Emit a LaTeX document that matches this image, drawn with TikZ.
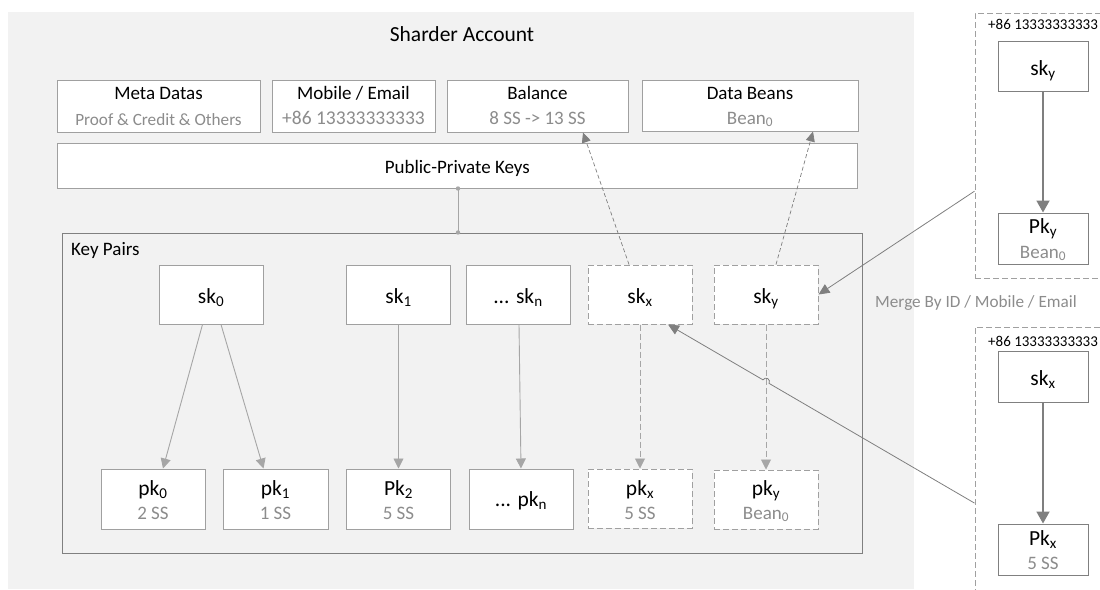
\documentclass[tikz,border=0pt]{standalone}
\usepackage{fontspec}
\setmainfont{Carlito}
\usetikzlibrary{arrows.meta,calc}
\definecolor{bgfill}{RGB}{242,242,242}
\definecolor{boxline}{RGB}{160,160,160}
\definecolor{kpline}{RGB}{128,128,128}
\definecolor{txtgray}{RGB}{140,140,140}
\definecolor{arrgray}{RGB}{166,166,166}
\definecolor{darkarr}{RGB}{127,127,127}
\newcommand{\fs}[1]{\fontsize{#1}{#1}\selectfont}
\begin{document}
\begin{tikzpicture}[x=1pt,y=-1pt,
  box/.style={draw=boxline, line width=1pt, fill=white, inner sep=0pt, minimum width=104pt, minimum height=59pt},
  dbox/.style={box, dash pattern=on 6pt off 3pt},
  grp/.style={draw=boxline, line width=1pt, dash pattern=on 6pt off 3pt},
  txt/.style={anchor=base, inner sep=0pt},
  big/.style={txt, font=\fs{21.5}},
  mid/.style={txt, font=\fs{19}},
  sub/.style={txt, font=\fs{19}, text=txtgray},
  arr/.style={draw=arrgray, line width=0.9pt, -{Triangle[length=10pt,width=10pt]}},
  darr/.style={draw=arrgray, line width=0.9pt, dash pattern=on 6pt off 3pt, -{Triangle[length=10pt,width=10pt]}},
  farr/.style={draw=darkarr, line width=0.7pt, dash pattern=on 4pt off 2.5pt, -{Triangle[length=10pt,width=9pt]}},
  marr/.style={draw=darkarr, line width=0.8pt, -{Triangle[length=11pt,width=10pt]}},
  garr/.style={draw=darkarr, line width=1.8pt, -{Triangle[length=12pt,width=13pt]}},
]
\useasboundingbox (0,0) rectangle (1100,589);
\clip (0,0) rectangle (1100,589);

% background
\fill[bgfill] (8,12) rectangle (914,589);
\node[big] (title) at (462,41) {Sharder Account};

% top row
\node[box, minimum width=203pt, minimum height=52pt] (meta) at (158.5,106) {};
\node[mid] (metaT) at (158.5,99) {Meta Datas};
\node[sub, font=\fs{17.2}] (metaS) at (158.5,125) {Proof \& Credit \& Others};

\node[box, minimum width=163pt, minimum height=52pt] (mob) at (353.5,106) {};
\node[mid] (mobT) at (353.5,99) {Mobile / Email};
\node[sub, font=\fs{19.5}] (mobS) at (353.5,124.5) {+86 13333333333};

\node[box, minimum width=181pt, minimum height=52pt] (bal) at (537.5,106) {};
\node[mid] (balT) at (537.5,99) {Balance};
\node[sub] (balS) at (537.5,124.5) {8 SS -> 13 SS};

\node[box, minimum width=216pt, minimum height=51pt] (db) at (750,105.5) {};
\node[mid] (dbT) at (750,99) {Data Beans};
\node[sub] (dbS) at (750,124) {Bean\textsubscript{0}};

\node[box, minimum width=800.5pt, minimum height=45pt] (ppk) at (457.25,165.5) {};
\node[mid] (ppkT) at (457.25,173) {Public-Private Keys};

% key pairs container
\node[draw=kpline, line width=1pt, inner sep=0pt, minimum width=800pt, minimum height=320pt] (kp) at (462,393) {};
\node[mid, anchor=base west] (kpT) at (71,255) {Key Pairs};

\draw[draw=arrgray, line width=1pt] ([xshift=0.75pt]ppk.south) -- ([xshift=-4pt]kp.north);
\fill[arrgray] ([xshift=0.75pt]ppk.south) circle (2.2pt);
\fill[arrgray] ([xshift=-4pt]kp.north) circle (2.2pt);

% secret keys
\node[box] (sk0) at (211,294.5) {};
\node[box] (sk1) at (398.5,294.5) {};
\node[box] (skn) at (518,294.5) {};
\node[dbox] (skx) at (640,294.5) {};
\node[dbox] (sky) at (766,294.5) {};
\node[big] (sk0T) at (211,303) {sk\textsubscript{0}};
\node[big] (sk1T) at (398.5,303) {sk\textsubscript{1}};
\node[big] (sknT) at (518,303) {... sk\textsubscript{n}};
\node[big] (skxT) at (640,303) {sk\textsubscript{x}};
\node[big] (skyT) at (766,303) {sk\textsubscript{y}};

% public keys
\node[box, minimum height=60pt] (pk0) at (153,499) {};
\node[box, minimum width=105pt, minimum height=60pt] (pk1) at (275.5,499) {};
\node[box, minimum height=60pt] (pk2) at (398.5,499) {};
\node[box, minimum height=60pt] (pkn) at (521,499) {};
\node[dbox] (pkx) at (640,498.5) {};
\node[dbox] (pky) at (766,499.5) {};
\node[big] (pk0T) at (153,495) {pk\textsubscript{0}};
\node[sub] (pk0S) at (153,519) {2 SS};
\node[big] (pk1T) at (275.5,495) {pk\textsubscript{1}};
\node[sub] (pk1S) at (275.5,519) {1 SS};
\node[big] (pk2T) at (398.5,495) {Pk\textsubscript{2}};
\node[sub] (pk2S) at (398.5,519) {5 SS};
\node[big] (pknT) at (521,506) {... pk\textsubscript{n}};
\node[big] (pkxT) at (640,495) {pk\textsubscript{x}};
\node[sub] (pkxS) at (640,519) {5 SS};
\node[big] (pkyT) at (766,495) {pk\textsubscript{y}};
\node[sub] (pkyS) at (766,519) {Bean\textsubscript{0}};

% key arrows
\draw[arr] ([xshift=-8.5pt]sk0.south) -- ([xshift=10pt]pk0.north);
\draw[arr] ([xshift=10pt]sk0.south) -- ([xshift=-12pt]pk1.north);
\draw[arr] (sk1.south) -- (pk2.north);
\draw[arr] ([xshift=1pt]skn.south) -- (pkn.north);
\draw[darr] (skx.south) -- (pkx.north);
\draw[darr] (sky.south) -- (pky.north);

% arrows to balance / data beans
\draw[farr] ([xshift=-11pt]skx.north) -- ([xshift=45.5pt]bal.south);
\draw[farr] ([xshift=10pt]sky.north) -- ([xshift=63pt]db.south);

% right-hand groups
\node[grp, inner sep=0pt, minimum width=160pt, minimum height=265pt] (g1) at (1055,145.5) {};
\node[grp, inner sep=0pt, minimum width=160pt, minimum height=300pt] (g2) at (1055,477) {};
\node[txt, anchor=base west, font=\fs{15}] (g1L) at (988,29) {+86 13333333333};
\node[txt, anchor=base west, font=\fs{15}] (g2L) at (988,346) {+86 13333333333};

\node[box, draw=kpline, minimum width=90pt, minimum height=50pt] (g1sk) at (1043,66) {};
\node[box, draw=kpline, minimum width=90pt, minimum height=51pt] (g1pk) at (1043,238.5) {};
\node[big] (g1skT) at (1043,75) {sk\textsubscript{y}};
\node[big] (g1pkT) at (1043,233) {Pk\textsubscript{y}};
\node[sub] (g1pkS) at (1043,258) {Bean\textsubscript{0}};
\draw[garr] (g1sk.south) -- (g1pk.north);

\node[box, draw=kpline, minimum width=90pt, minimum height=51pt] (g2sk) at (1043,376.5) {};
\node[box, draw=kpline, minimum width=90pt, minimum height=51pt] (g2pk) at (1043,549.5) {};
\node[big] (g2skT) at (1043,385) {sk\textsubscript{x}};
\node[big] (g2pkT) at (1043,545) {Pk\textsubscript{x}};
\node[sub] (g2pkS) at (1043,569) {5 SS};
\draw[garr] (g2sk.south) -- (g2pk.north);

\node[txt, font=\fs{17.2}, text=txtgray] (mergeT) at (976,307) {Merge By ID / Mobile / Email};

% merge connectors
\coordinate (m1) at ($(g1.north west)!0.6717!(g1.south west)$);
\draw[marr] (m1) -- (sky.east);
\coordinate (m2) at ($(g2.north west)!0.5867!(g2.south west)$);
\coordinate (m2end) at ([xshift=28pt]skx.south);
\coordinate (hopX) at (intersection of m2--m2end and sky.south--pky.north);
\draw[marr] let \p1 = ($(m2)-(m2end)$), \n1 = {atan2(\y1,\x1)} in
  (m2) -- ($(hopX)!3.5pt!(m2)$) arc[start angle=\n1, end angle=\n1+180, radius=3.5pt] -- (m2end);
\end{tikzpicture}
\end{document}
